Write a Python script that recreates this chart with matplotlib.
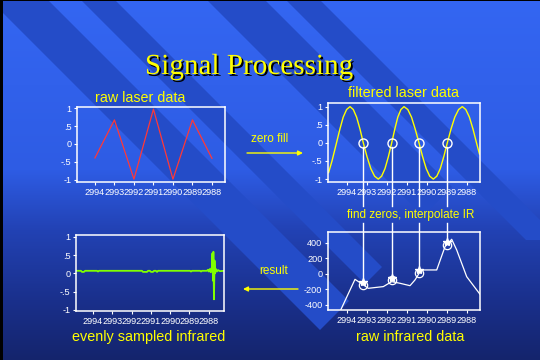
import numpy as np
import matplotlib
matplotlib.use("Agg")
import matplotlib.pyplot as plt
import matplotlib.patheffects as pe
from matplotlib.patches import Polygon, Rectangle
from matplotlib.lines import Line2D
from matplotlib.transforms import IdentityTransform

plt.rcParams['font.family'] = ['Liberation Sans', 'DejaVu Sans']

# tick labels (wavenumber, decreasing to the right)
wn_ticks = [2994, 2993, 2992, 2991, 2990, 2989, 2988]
wn_labels = ["2994", "2993", "2992", "2991", "2990", "2989", "2988"]
unit_ticks = [1, 0.5, 0, -0.5, -1]
unit_labels = ["1", ".5", "0", "-.5", "-1"]
ir_ticks = [400, 200, 0, -200, -400]
ir_labels = ["400", "200", "0", "-200", "-400"]

# raw laser data (red)
raw_x = [2994, 2993, 2992, 2991, 2990, 2989, 2988]
raw_y = [-0.39, 0.67, -0.98, 0.97, -0.98, 0.67, -0.40]

# filtered laser data (yellow)
filt_x = [2994.92, 2994.75, 2994.525, 2994.355, 2994.19, 2994.02, 2993.85,
          2993.685, 2993.52, 2993.35, 2993.185, 2993.00, 2992.81, 2992.62,
          2992.435, 2992.27, 2992.10, 2991.93, 2991.765, 2991.61, 2991.46,
          2991.305, 2991.15, 2990.96, 2990.775, 2990.59, 2990.40, 2990.22,
          2990.04, 2989.865, 2989.685, 2989.51, 2989.335, 2989.16, 2988.985,
          2988.80, 2988.61, 2988.42, 2988.235, 2988.06, 2987.88, 2987.70,
          2987.525, 2987.375]
filt_y = [-0.82, -0.50, 0.0, 0.38, 0.71, 0.92, 1.0,
          0.92, 0.71, 0.38, 0.0, -0.38, -0.71, -0.92,
          -1.0, -0.92, -0.71, -0.38, 0.0, 0.38, 0.71,
          0.92, 1.0, 0.92, 0.71, 0.38, 0.0, -0.38,
          -0.71, -0.92, -1.0, -0.92, -0.71, -0.38, 0.0,
          0.38, 0.71, 0.92, 1.0, 0.92, 0.71, 0.38,
          0.0, -0.31]

# zero crossings of the filtered laser signal
zero_x = [2993.185, 2991.765, 2990.40, 2988.985]
zero_y = [0, 0, 0, 0]

# raw infrared data (white)
ir_x = [2994.315, 2993.60, 2993.10, 2992.935, 2992.185, 2991.765, 2991.35,
        2990.85, 2990.60, 2990.315, 2990.15, 2989.515, 2989.10, 2988.765,
        2988.515, 2988.015, 2987.35]
ir_y = [-465, -69, -155, -185, -163, -99, -120,
        -151, -77, 43, 52, 52, 352, 448,
        310, -35, -262]
ir_at_zero = [-142, -77, 17, 374]
ir_mark = [-99, -56, 52, 417]

# evenly sampled infrared (green)
even_x = [2994.88, 2994.62, 2994.57, 2994.47, 2994.41, 2993.79, 2993.74, 2993.69,
          2991.46, 2991.41, 2991.20, 2991.15, 2991.05, 2990.99, 2990.89, 2990.84,
          2990.74, 2990.68, 2990.63, 2988.97, 2988.92, 2988.87, 2988.45, 2988.40,
          2988.35, 2988.09, 2988.04, 2987.99, 2987.94, 2987.89, 2987.83, 2987.81,
          2987.78, 2987.76, 2987.73, 2987.70, 2987.68, 2987.63, 2987.58, 2987.52,
          2987.42, 2987.21]
even_y = [0.07, 0.07, 0.04, 0.04, 0.07, 0.07, 0.05, 0.07,
          0.07, 0.04, 0.04, 0.07, 0.07, 0.04, 0.04, 0.07,
          0.07, 0.04, 0.07, 0.07, 0.05, 0.07, 0.07, 0.05,
          0.07, 0.07, 0.10, 0.05, 0.12, 0.03, 0.20, 0.55,
          -0.20, 0.59, -0.71, 0.35, 0.00, 0.12, 0.05, 0.09,
          0.06, 0.07]

W, H = 540, 360
fig = plt.figure(figsize=(5.4, 3.6), dpi=100)

# slide background: vertical gradient + diagonal stripes
bg = fig.add_axes([0, 0, 1, 1])
grad_y = [0, 170, 230, 300, 360]
grad_rgb = [(52, 102, 242), (46, 92, 228), (34, 66, 180), (26, 48, 140), (20, 36, 108)]
rows = np.arange(H) + 0.5
col = np.stack([np.interp(rows, grad_y, [c[i] for c in grad_rgb]) for i in range(3)], axis=-1) / 255
img = np.repeat(col[:, None, :], W, axis=1)
bg.imshow(img, extent=[0, W, H, 0], aspect='auto', interpolation='nearest', zorder=0)
bg.set_xlim(0, W)
bg.set_ylim(H, 0)
bg.axis('off')

stripe = (36 / 255, 76 / 255, 200 / 255)
stripes = [
    [(-40, -30), (18, -30), (349, 301), (320, 330)],
    [(51, -30), (85, -30), (382, 267), (365, 284)],
    [(177, -30), (235, -30), (452, 187), (423, 216)],
    [(256, -30), (290, -30), (560, 240), (526, 240)],
]
for pts in stripes:
    bg.add_patch(Polygon(pts, closed=True, facecolor=stripe, edgecolor='none', zorder=1))
bg.add_patch(Rectangle((0, 0), 3, H, facecolor='black', edgecolor='none', zorder=2))
bg.add_patch(Rectangle((0, 0), W, 1, facecolor='black', edgecolor='none', zorder=2))


def panel(l, t, r, b, xlim, ylim, yticks, ylabels):
    ax = fig.add_axes([l / W, 1 - b / H, (r - l) / W, (b - t) / H])
    ax.set_facecolor('none')
    ax.set_xlim(*xlim)
    ax.set_ylim(*ylim)
    ax.set_xticks(wn_ticks, wn_labels)
    ax.set_yticks(yticks, ylabels)
    for s in ax.spines.values():
        s.set_color('white')
        s.set_linewidth(1.1)
    ax.tick_params(colors='white', length=2.5, width=0.8, labelsize=6.6, pad=1.5)
    return ax


ax_tl = panel(77, 107, 225, 182, (2994.92, 2987.33), (-1.06, 1.03), unit_ticks, unit_labels)
ax_tr = panel(328, 103, 480, 182, (2994.95, 2987.35), (-1.08, 1.10), unit_ticks, unit_labels)
ax_bl = panel(76, 235, 224, 311, (2994.88, 2987.21), (-1.03, 1.05), unit_ticks, unit_labels)
ax_br = panel(328, 232, 480, 310, (2994.95, 2987.35), (-465, 542), ir_ticks, ir_labels)

ax_tl.plot(raw_x, raw_y, color='#ff3838', lw=0.9)
ax_tr.plot(filt_x, filt_y, color='#ffff00', lw=1.0)
ax_tr.plot(zero_x, zero_y, 'o', mfc='none', mec='white', ms=6.5, mew=1.0)
ax_bl.plot(even_x, even_y, color='#80ff00', lw=1.3)
ax_br.plot(ir_x, ir_y, color='white', lw=0.9)
ax_br.plot(zero_x, ir_at_zero, 'o', mfc='none', mec='white', ms=6, mew=0.9)
ax_br.plot(zero_x, ir_mark, '*', color='white', ms=6, clip_on=False)

# lines from the zero crossings down to the infrared curve (gap for the label)
gap_top, gap_bot = H - 206, H - 223
for xz, ym in zip(zero_x, ir_mark):
    x0, y0 = ax_tr.transData.transform((xz, 0))
    x1, y1 = ax_br.transData.transform((xz, ym))
    fig.add_artist(Line2D([x0, x0], [y0 - 4, gap_top], color='white', lw=1.0,
                          transform=IdentityTransform()))
    fig.add_artist(Line2D([x1, x1], [gap_bot, y1], color='white', lw=1.0,
                          transform=IdentityTransform()))

yel = '#ffff00'
bg.text(249, 74, "Signal Processing", family=['Liberation Serif', 'DejaVu Serif'],
        fontsize=21, color=yel, ha='center', va='baseline', zorder=5,
        path_effects=[pe.withSimplePatchShadow(offset=(1.3, -1.3), shadow_rgbFace='black', alpha=1.0)])
bg.text(140, 102, "raw laser data", fontsize=10.3, color=yel, ha='center', va='baseline', zorder=5)
bg.text(403, 97, "filtered laser data", fontsize=10.4, color=yel, ha='center', va='baseline', zorder=5)
bg.text(411, 218, "find zeros, interpolate IR", fontsize=8.5, color=yel, ha='center', va='baseline', zorder=5)
bg.text(270, 142, "zero fill", fontsize=8.5, color=yel, ha='center', va='baseline', zorder=5)
bg.text(274, 274, "result", fontsize=8.5, color=yel, ha='center', va='baseline', zorder=5)
bg.text(149, 341, "evenly sampled infrared", fontsize=10.4, color=yel, ha='center', va='baseline', zorder=5)
bg.text(410, 341, "raw infrared data", fontsize=10.4, color=yel, ha='center', va='baseline', zorder=5)

arrow = dict(arrowstyle='-|>', color=yel, lw=1.0, mutation_scale=7, shrinkA=0, shrinkB=0)
bg.annotate('', xy=(303, 153), xytext=(247, 153), arrowprops=arrow, zorder=5)
bg.annotate('', xy=(243, 289), xytext=(298, 289), arrowprops=arrow, zorder=5)

fig.savefig('out.png', dpi=100)
